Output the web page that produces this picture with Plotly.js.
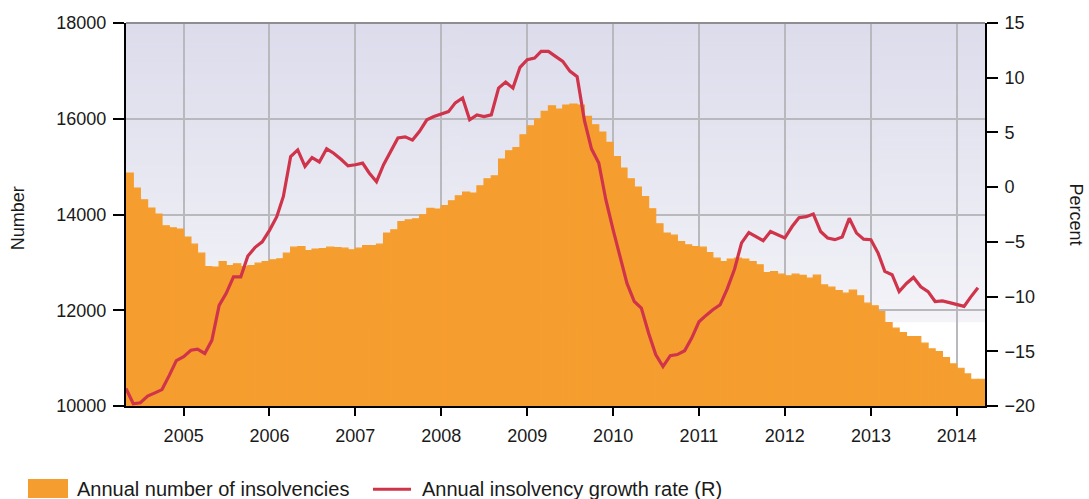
<!DOCTYPE html>
<html>
<head>
<meta charset="utf-8">
<script src="https://cdn.plot.ly/plotly-3.0.1.min.js"></script>
<style>
  html, body { margin: 0; padding: 0; background: #ffffff; }
  #chart { width: 1089px; height: 499px; }
</style>
</head>
<body>
<div id="chart"></div>
<script>
// Monthly observations, May 2004 - April 2014
const startYear = 2004, startMonth = 5, monthCount = 120;
const months = [];
const monthWidths = [];
for (let k = 0; k < monthCount; k++) {
  const m0 = startMonth - 1 + k;
  const y = startYear + Math.floor(m0 / 12);
  const m = (m0 % 12) + 1;
  months.push(y + '-' + String(m).padStart(2, '0') + '-01');
  monthWidths.push(Date.UTC(y, m, 1) - Date.UTC(y, m - 1, 1));
}

const insolvencyNames = ['Annual number of insolvencies', 'Annual insolvency growth rate (R)'];

// Annual number of insolvencies (left axis)
const annualInsolvencies = [
  14865, 14552, 14307, 14134, 14008, 13764, 13722, 13695,
  13528, 13381, 13193, 12913, 12901, 13018, 12935, 12970, 12913, 12935, 12984, 13018,
  13053, 13074, 13193, 13318, 13331, 13248, 13277, 13290, 13318, 13311, 13297, 13262,
  13297, 13352, 13352, 13381, 13611, 13680, 13854, 13889, 13910, 13994, 14126, 14113,
  14188, 14286, 14391, 14468, 14447, 14600, 14746, 14809, 15158, 15331, 15400, 15666,
  15854, 15993, 16153, 16272, 16202, 16286, 16307, 16286, 16048, 15875, 15722, 15505,
  15212, 14969, 14746, 14572, 14376, 14119, 13805, 13611, 13569, 13435, 13366, 13331,
  13318, 13206, 13088, 13018, 13068, 13088, 13068, 13018, 12949, 12788, 12809, 12754,
  12719, 12754, 12730, 12670, 12733, 12530, 12482, 12411, 12357, 12420, 12301, 12148,
  12092, 11973, 11743, 11626, 11534, 11450, 11450, 11312, 11193, 11136, 11011, 10879,
  10789, 10670, 10559, 10559
];

// Annual insolvency growth rate, percent (right axis)
const growthRate = [
  -18.4, -19.8, -19.7, -19.1, -18.8, -18.5, -17.2, -15.85,
  -15.5, -14.9, -14.8, -15.2, -14.0, -10.8, -9.7, -8.2, -8.2, -6.3, -5.5, -5.0,
  -3.95, -2.7, -0.85, 2.8, 3.4, 1.9, 2.7, 2.3, 3.5, 3.1, 2.55, 1.95,
  2.05, 2.2, 1.3, 0.5, 2.05, 3.25, 4.5, 4.6, 4.3, 5.1, 6.15, 6.45,
  6.7, 6.9, 7.7, 8.15, 6.15, 6.6, 6.45, 6.6, 9.05, 9.6, 9.05, 10.95,
  11.65, 11.8, 12.4, 12.4, 11.95, 11.5, 10.6, 10.1, 6.1, 3.5, 2.2, -1.15,
  -3.9, -6.35, -8.8, -10.45, -11.05, -13.35, -15.3, -16.4, -15.4, -15.3, -14.95, -13.8,
  -12.3, -11.7, -11.2, -10.75, -9.3, -7.5, -5.1, -4.15, -4.5, -4.9, -4.05, -4.35,
  -4.65, -3.6, -2.8, -2.7, -2.45, -4.05, -4.65, -4.8, -4.55, -2.85, -4.2, -4.75,
  -4.8, -6.05, -7.7, -8.0, -9.55, -8.8, -8.25, -9.1, -9.55, -10.45, -10.4, -10.55,
  -10.75, -10.9, -10.05, -9.2
];

const leftTicks = [10000, 12000, 14000, 16000, 18000];
const rightTicks = [-20, -15, -10, -5, 0, 5, 10, 15];

// background gradient image
function gradientImage() {
  const c = document.createElement('canvas');
  c.width = 4; c.height = 256;
  const ctx = c.getContext('2d');
  const g = ctx.createLinearGradient(0, 0, 0, 256);
  g.addColorStop(0, '#dcdcec');
  g.addColorStop(1, '#f3f3f8');
  ctx.fillStyle = g;
  ctx.fillRect(0, 0, 4, 256);
  return c.toDataURL('image/png');
}

const font = 'Liberation Sans, Arial, Helvetica, sans-serif';
const orange = '#f59e2f';
const red = '#d0344a';

const traces = [
  {
    type: 'bar',
    name: insolvencyNames[0],
    x: months,
    y: annualInsolvencies,
    width: monthWidths,
    offset: 0,
    marker: { color: orange, line: { color: orange, width: 1.2 } },
    yaxis: 'y',
    hoverinfo: 'x+y'
  },
  {
    type: 'scatter',
    mode: 'lines',
    name: insolvencyNames[1],
    x: months,
    y: growthRate,
    line: { color: red, width: 3.2 },
    yaxis: 'y2'
  }
];

const layout = {
  width: 1089,
  height: 499,
  margin: { l: 126, r: 104, t: 23, b: 93 },
  paper_bgcolor: '#ffffff',
  plot_bgcolor: 'rgba(0,0,0,0)',
  showlegend: false,
  bargap: 0,
  font: { family: font, size: 18, color: '#1a1a1a' },
  xaxis: {
    type: 'date',
    range: ['2004-05-01', '2014-05-01'],
    tick0: '2005-01-01',
    dtick: 'M12',
    tickformat: '%Y',
    ticks: 'outside',
    ticklen: 8,
    tickwidth: 2,
    tickcolor: '#000',
    showline: true,
    linecolor: '#000',
    linewidth: 2,
    showgrid: true,
    gridcolor: '#b9b9bd',
    gridwidth: 2,
    zeroline: false,
    ticklabelstandoff: 4,
    tickfont: { family: font, size: 18, color: '#1a1a1a' }
  },
  yaxis: {
    range: [10000, 18000],
    tickvals: leftTicks,
    tickformat: 'd',
    ticks: 'outside',
    ticklen: 11,
    tickwidth: 2,
    tickcolor: '#000',
    showline: true,
    linecolor: '#000',
    linewidth: 2,
    showgrid: true,
    gridcolor: '#b9b9bd',
    gridwidth: 2,
    zeroline: false,
    ticklabelstandoff: 3,
    tickfont: { family: font, size: 18, color: '#1a1a1a' }
  },
  yaxis2: {
    overlaying: 'y',
    side: 'right',
    range: [-20, 15],
    tickvals: rightTicks,
    ticks: 'outside',
    ticklen: 11,
    tickwidth: 2,
    tickcolor: '#000',
    showline: true,
    linecolor: '#000',
    linewidth: 2,
    showgrid: false,
    zeroline: false,
    ticklabelstandoff: 3,
    tickfont: { family: font, size: 18, color: '#1a1a1a' }
  },
  images: [{
    source: gradientImage(),
    xref: 'x domain', yref: 'y',
    x: 0, y: 18000,
    sizex: 1, sizey: 6250,
    xanchor: 'left', yanchor: 'top',
    sizing: 'stretch',
    layer: 'below'
  }],
  shapes: [
    { type: 'line', xref: 'paper', yref: 'paper', x0: 0, x1: 1, y0: 1, y1: 1,
      line: { color: '#8e8e92', width: 2 } },
    { type: 'rect', xref: 'paper', yref: 'paper', x0: -0.1141, x1: -0.0675, y0: -0.2402, y1: -0.1906,
      fillcolor: orange, line: { width: 0 } },
    { type: 'line', xref: 'paper', yref: 'paper', x0: 0.2875, x1: 0.3318, y0: -0.2175, y1: -0.2175,
      line: { color: red, width: 3 } }
  ],
  annotations: [
    { text: 'Number', xref: 'paper', yref: 'paper', x: -0.1257, y: 0.49,
      xanchor: 'center', yanchor: 'middle', textangle: -90, showarrow: false,
      font: { family: font, size: 18, color: '#1a1a1a' } },
    { text: 'Percent', xref: 'paper', yref: 'paper', x: 1.1071, y: 0.5,
      xanchor: 'center', yanchor: 'middle', textangle: 90, showarrow: false,
      font: { family: font, size: 18, color: '#1a1a1a' } },
    { text: insolvencyNames[0], xref: 'paper', yref: 'paper', x: -0.0594, y: -0.2175,
      xanchor: 'left', yanchor: 'middle', showarrow: false,
      font: { family: font, size: 20, color: '#1a1a1a' } },
    { text: insolvencyNames[1], xref: 'paper', yref: 'paper', x: 0.3423, y: -0.2175,
      xanchor: 'left', yanchor: 'middle', showarrow: false,
      font: { family: font, size: 20, color: '#1a1a1a' } }
  ]
};

Plotly.newPlot('chart', traces, layout, { displayModeBar: false, staticPlot: true });
</script>
</body>
</html>
